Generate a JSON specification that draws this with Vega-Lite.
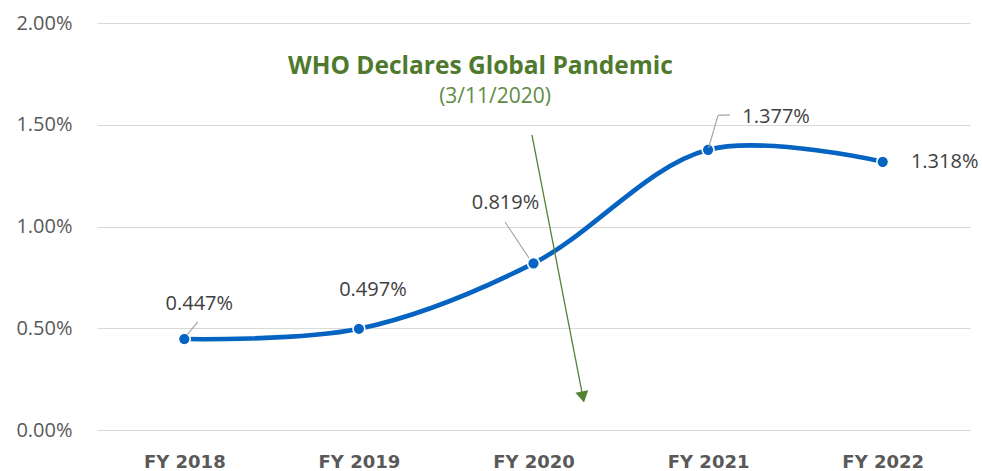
{
  "$schema": "https://vega.github.io/schema/vega-lite/v6.json",
  "width": 873,
  "height": 407,
  "autosize": {"type": "none"},
  "padding": {"left": 97, "top": 23, "right": 12, "bottom": 41},
  "background": "white",
  "config": {"view": {"stroke": null}},
  "datasets": {
    "rates": [
      {"year": 2018, "rate": 0.00447},
      {"year": 2019, "rate": 0.00497},
      {"year": 2020, "rate": 0.00819},
      {"year": 2021, "rate": 0.01377},
      {"year": 2022, "rate": 0.01318}
    ],
    "leaders": [
      {"x1": 2018.078, "y1": 0.00531, "x2": 2018.015, "y2": 0.00467},
      {"x1": 2019.837, "y1": 0.01022, "x2": 2019.974, "y2": 0.00845},
      {"x1": 2021.003, "y1": 0.01387, "x2": 2021.057, "y2": 0.01546},
      {"x1": 2021.057, "y1": 0.01546, "x2": 2021.125, "y2": 0.01549}
    ],
    "arrow": [
      {"x1": 2019.991, "y1": 0.0145, "x2": 2020.283, "y2": 0.00162}
    ],
    "notes": [
      {"label": "WHO Declares Global Pandemic", "nx": 2019.696, "ny": 0.01784, "kind": "title"},
      {"label": "(3/11/2020)", "nx": 2019.78, "ny": 0.01636, "kind": "date"}
    ]
  },
  "layer": [
    {
      "data": {"name": "rates"},
      "mark": {"type": "line", "color": "#0563C1", "strokeWidth": 4.6, "interpolate": "catmull-rom"},
      "encoding": {
        "x": {
          "field": "year", "type": "quantitative",
          "scale": {"domain": [2017.5, 2022.5], "nice": false, "zero": false},
          "axis": {
            "values": [2018, 2019, 2020, 2021, 2022],
            "labelExpr": "'FY ' + datum.value",
            "title": null, "grid": false, "domain": false, "ticks": false,
            "labelFont": "DejaVu Sans", "labelFontWeight": "bold", "labelFontSize": 18,
            "labelColor": "#595959", "labelPadding": 23
          }
        },
        "y": {
          "field": "rate", "type": "quantitative",
          "scale": {"domain": [0, 0.02], "nice": false},
          "axis": {
            "values": [0, 0.005, 0.01, 0.015, 0.02],
            "format": ".2%",
            "title": null, "domain": false, "ticks": false,
            "gridColor": "#d9d9d9", "gridWidth": 1.2,
            "labelFont": "Open Sans", "labelFontSize": 20,
            "labelColor": "#595959", "labelPadding": 25
          }
        }
      }
    },
    {
      "data": {"name": "rates"},
      "mark": {"type": "point", "filled": true, "color": "#0563C1", "size": 140, "stroke": "white", "strokeWidth": 1.6, "opacity": 1},
      "encoding": {
        "x": {"field": "year", "type": "quantitative"},
        "y": {"field": "rate", "type": "quantitative"}
      }
    },
    {
      "data": {"name": "leaders"},
      "mark": {"type": "rule", "color": "#a6a6a6", "strokeWidth": 1.2},
      "encoding": {
        "x": {"field": "x1", "type": "quantitative"},
        "y": {"field": "y1", "type": "quantitative"},
        "x2": {"field": "x2"},
        "y2": {"field": "y2"}
      }
    },
    {
      "data": {"name": "arrow"},
      "mark": {"type": "rule", "color": "#548235", "strokeWidth": 1.3},
      "encoding": {
        "x": {"field": "x1", "type": "quantitative"},
        "y": {"field": "y1", "type": "quantitative"},
        "x2": {"field": "x2"},
        "y2": {"field": "y2"}
      }
    },
    {
      "data": {"name": "arrow"},
      "mark": {"type": "point", "shape": "triangle-down", "filled": true, "color": "#548235", "size": 170, "angle": 349, "opacity": 1},
      "encoding": {
        "x": {"field": "x2", "type": "quantitative"},
        "y": {"field": "y2", "type": "quantitative"}
      }
    },
    {
      "data": {"name": "notes"},
      "transform": [{"filter": "datum.kind == 'title'"}],
      "mark": {"type": "text", "font": "Open Sans", "fontWeight": "bold", "fontSize": 24.5, "color": "#4F7A2D", "align": "center", "baseline": "middle"},
      "encoding": {
        "x": {"field": "nx", "type": "quantitative"},
        "y": {"field": "ny", "type": "quantitative"},
        "text": {"field": "label"}
      }
    },
    {
      "data": {"name": "notes"},
      "transform": [{"filter": "datum.kind == 'date'"}],
      "mark": {"type": "text", "font": "Open Sans", "fontSize": 21, "color": "#5E8B45", "align": "center", "baseline": "middle"},
      "encoding": {
        "x": {"field": "nx", "type": "quantitative"},
        "y": {"field": "ny", "type": "quantitative"},
        "text": {"field": "label"}
      }
    },
    {
      "data": {"name": "rates"},
      "transform": [{"filter": "datum.year == 2018"}],
      "mark": {"type": "text", "font": "Open Sans", "fontSize": 20, "color": "#404040", "align": "center", "baseline": "middle", "dx": 15, "dy": -35},
      "encoding": {
        "x": {"field": "year", "type": "quantitative"},
        "y": {"field": "rate", "type": "quantitative"},
        "text": {"field": "rate", "format": ".3%"}
      }
    },
    {
      "data": {"name": "rates"},
      "transform": [{"filter": "datum.year == 2019"}],
      "mark": {"type": "text", "font": "Open Sans", "fontSize": 20, "color": "#404040", "align": "center", "baseline": "middle", "dx": 14, "dy": -39},
      "encoding": {
        "x": {"field": "year", "type": "quantitative"},
        "y": {"field": "rate", "type": "quantitative"},
        "text": {"field": "rate", "format": ".3%"}
      }
    },
    {
      "data": {"name": "rates"},
      "transform": [{"filter": "datum.year == 2020"}],
      "mark": {"type": "text", "font": "Open Sans", "fontSize": 20, "color": "#404040", "align": "center", "baseline": "middle", "dx": -28, "dy": -60},
      "encoding": {
        "x": {"field": "year", "type": "quantitative"},
        "y": {"field": "rate", "type": "quantitative"},
        "text": {"field": "rate", "format": ".3%"}
      }
    },
    {
      "data": {"name": "rates"},
      "transform": [{"filter": "datum.year == 2021"}],
      "mark": {"type": "text", "font": "Open Sans", "fontSize": 20, "color": "#404040", "align": "center", "baseline": "middle", "dx": 68, "dy": -33},
      "encoding": {
        "x": {"field": "year", "type": "quantitative"},
        "y": {"field": "rate", "type": "quantitative"},
        "text": {"field": "rate", "format": ".3%"}
      }
    },
    {
      "data": {"name": "rates"},
      "transform": [{"filter": "datum.year == 2022"}],
      "mark": {"type": "text", "font": "Open Sans", "fontSize": 20, "color": "#404040", "align": "center", "baseline": "middle", "dx": 62, "dy": 0},
      "encoding": {
        "x": {"field": "year", "type": "quantitative"},
        "y": {"field": "rate", "type": "quantitative"},
        "text": {"field": "rate", "format": ".3%"}
      }
    }
  ]
}
